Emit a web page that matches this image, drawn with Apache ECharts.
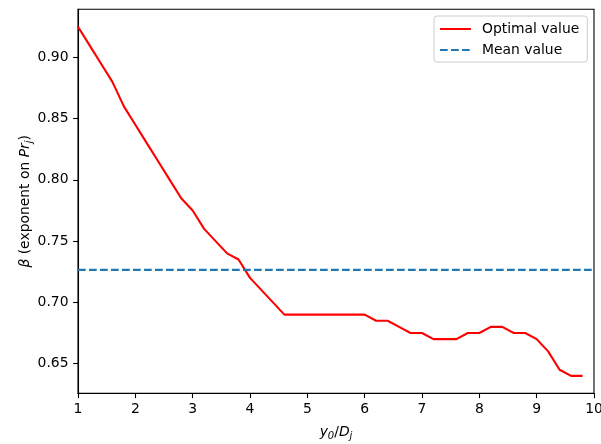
<!DOCTYPE html>
<html>
<head>
<meta charset="utf-8">
<script src="https://cdn.jsdelivr.net/npm/echarts@6/dist/echarts.min.js"></script>
<style>html,body{margin:0;padding:0;background:#fff;}#c{width:601px;height:444px;}</style>
</head>
<body>
<div id="c"></div>
<script>
const xValues = [1.0,1.2,1.4,1.6,1.8,2.0,2.2,2.4,2.6,2.8,3.0,3.2,3.4,3.6,3.8,4.0,4.2,4.4,4.6,4.8,5.0,5.2,5.4,5.6,5.8,6.0,6.2,6.4,6.6,6.8,7.0,7.2,7.4,7.6,7.8,8.0,8.2,8.4,8.6,8.8,9.0,9.2,9.4,9.6,9.8];
const optimalValues = [0.925,0.91,0.895,0.88,0.86,0.845,0.83,0.815,0.80,0.785,0.775,0.76,0.75,0.74,0.735,0.72,0.71,0.70,0.69,0.69,0.69,0.69,0.69,0.69,0.69,0.69,0.685,0.685,0.68,0.675,0.675,0.67,0.67,0.67,0.675,0.675,0.68,0.68,0.675,0.675,0.67,0.66,0.645,0.64,0.64];
const meanValue = 0.7265;
const xTicks = [1,2,3,4,5,6,7,8,9,10];
const yTicks = [0.65,0.70,0.75,0.80,0.85,0.90];
const seriesNames = ['Optimal value','Mean value'];

const font = 'DejaVu Sans';
const fs = 13.9;
const chart = echarts.init(document.getElementById('c'), null, {renderer:'canvas'});
const richStyles = {
  i: {fontFamily: font, fontStyle: 'italic', fontSize: fs, color: '#000'},
  n: {fontFamily: font, fontSize: fs, color: '#000'},
  s: {fontFamily: font, fontStyle: 'italic', fontSize: 10, color: '#000', padding: [8, 0, 0, 0]}
};
chart.setOption({
  animation: false,
  backgroundColor: '#fff',
  textStyle: {fontFamily: font},
  grid: {left: 78, right: 7, top: 9.3, bottom: 50.7, show: true, borderColor: '#000', borderWidth: 1.1, containLabel: false, outerBoundsMode: 'none'},
  legend: {
    left: 434, top: 16, orient: 'vertical',
    data: seriesNames,
    backgroundColor: 'rgba(255,255,255,0.8)',
    borderColor: '#cccccc', borderWidth: 1, borderRadius: 3,
    padding: [6, 8, 5, 5],
    itemWidth: 31, itemHeight: 14, itemGap: 7,
    itemStyle: {opacity: 0},
    textStyle: {fontFamily: font, fontSize: fs, color: '#000', padding: [0, 0, 0, 6]}
  },
  xAxis: {
    type: 'value', min: 1, max: 10, interval: 1,
    name: '{i|y}{s|0}{n|/}{i|D}{s|j}',
    nameLocation: 'middle', nameGap: 30, nameMoveOverlap: false,
    nameTextStyle: {fontFamily: font, fontSize: fs, color: '#000', rich: richStyles},
    splitLine: {show: false},
    axisLine: {show: true, onZero: false, lineStyle: {color: '#000', width: 1.1}},
    axisTick: {show: true, length: 4.9, lineStyle: {color: '#000', width: 1.1}, customValues: xTicks},
    axisLabel: {show: true, margin: 9.5, fontFamily: font, fontSize: fs, color: '#000', customValues: xTicks, formatter: v => String(v)}
  },
  yAxis: {
    type: 'value', min: 0.62575, max: 0.93925,
    name: '{i|β} {n|(exponent on }{i|Pr}{s|j}{n|)}',
    nameLocation: 'middle', nameGap: 44, nameRotate: 90, nameMoveOverlap: false,
    nameTextStyle: {fontFamily: font, fontSize: fs, color: '#000', rich: richStyles},
    splitLine: {show: false},
    axisLine: {show: true, onZero: false, lineStyle: {color: '#000', width: 1.1}},
    axisTick: {show: true, length: 4.9, lineStyle: {color: '#000', width: 1.1}, customValues: yTicks},
    axisLabel: {show: true, margin: 9.5, fontFamily: font, fontSize: fs, color: '#000', customValues: yTicks, formatter: v => v.toFixed(2)}
  },
  series: [
    {
      name: seriesNames[0], type: 'line',
      data: xValues.map((x, i) => [x, optimalValues[i]]),
      showSymbol: false, symbol: 'none',
      lineStyle: {color: '#ff0000', width: 2.1},
      itemStyle: {color: '#ff0000'}
    },
    {
      name: seriesNames[1], type: 'line',
      data: [[1, meanValue], [10, meanValue]],
      showSymbol: false, symbol: 'none',
      lineStyle: {color: '#1f77b4', width: 2.1, type: [7.7, 3.3]},
      itemStyle: {color: '#1f77b4'}
    }
  ]
});
</script>
</body>
</html>
